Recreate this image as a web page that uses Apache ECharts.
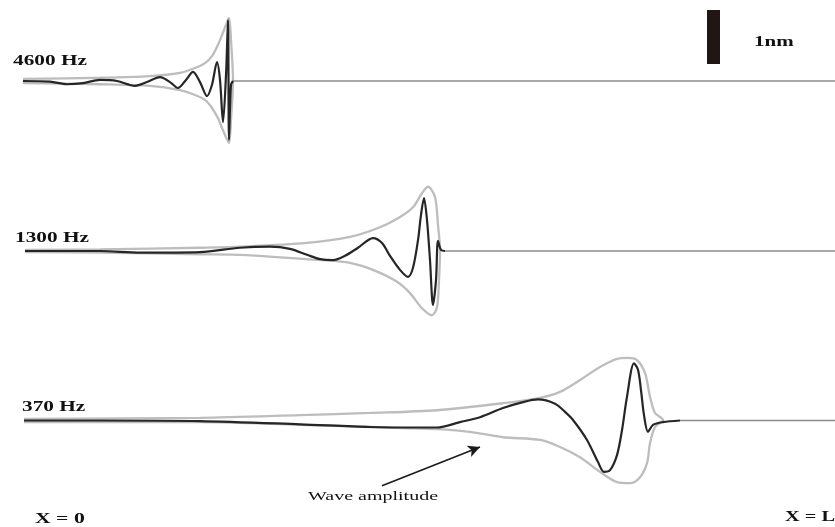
<!DOCTYPE html>
<html>
<head>
<meta charset="utf-8">
<script src="https://cdn.jsdelivr.net/npm/echarts@6/dist/echarts.min.js"></script>
<style>
  html, body { margin: 0; padding: 0; background: #ffffff; }
  #chart { width: 835px; height: 527px; }
</style>
</head>
<body>
<div id="chart"></div>
<script>
// Position along the basilar membrane (arbitrary units, X = 0 at the base, X = L at the apex)
const POS_MAX = 82;
// Displacement range shown for each trace (nm)
const AMP_RANGE = 1.4;

const frequencies = ['4600 Hz', '1300 Hz', '370 Hz'];

// Instantaneous displacement, [position, nm]
const wave4600 = [[0.8,0],[3.5,-0.01],[5.2,-0.06],[6.8,-0.04],[8.5,0.02],[10.2,0],[12.0,-0.09],[13.2,-0.02],[14.5,0.07],[15.5,-0.02],[16.3,-0.13],[17.1,0.02],[17.8,0.17],[18.5,-0.02],[19.2,-0.28],[19.7,-0.07],[20.2,0.35],[20.5,0.02],[20.8,-0.76],[21.1,0.11],[21.3,1.13],[21.4,-1.09],[21.6,-0.07],[21.8,0]];
const wave1300 = [[1.0,0],[8.5,0],[12.5,-0.03],[18.5,-0.02],[22.5,0.06],[25.5,0.08],[27.5,0.04],[29.2,-0.07],[30.5,-0.15],[31.8,-0.17],[33.0,-0.09],[34.3,0.06],[35.8,0.24],[36.7,0.15],[37.5,-0.09],[38.5,-0.35],[39.3,-0.48],[39.8,-0.31],[40.3,0.2],[40.6,0.67],[40.9,0.98],[41.2,0.57],[41.5,-0.17],[41.8,-1.0],[42.1,-0.54],[42.3,0.19],[42.6,0.02],[43.0,0]];
const wave370 = [[0.9,0],[8.5,0],[18.5,-0.01],[28.5,-0.07],[35.5,-0.12],[40.5,-0.13],[42.2,-0.13],[44.5,-0.03],[46.5,0.06],[48.8,0.23],[50.8,0.34],[52.3,0.39],[54.0,0.31],[55.0,0.16],[55.8,0.01],[57.2,-0.36],[58.3,-0.77],[58.9,-0.95],[59.5,-0.92],[60.2,-0.64],[60.7,-0.18],[61.2,0.44],[61.9,1.06],[62.3,0.94],[62.6,0.56],[62.9,0.1],[63.3,-0.21],[63.8,-0.08],[64.8,-0.03],[66.5,0]];

// Envelope (wave amplitude), upper and lower edges, left to right
const envUpper4600 = [[0.8,0.04],[8.5,0.06],[13.5,0.09],[16.5,0.15],[18.0,0.24],[19.0,0.33],[19.7,0.46],[20.3,0.67],[20.7,0.85],[21.1,1.04],[21.4,1.17],[21.6,0.76],[21.8,0]];
const envLower4600 = [[0.8,-0.04],[8.5,-0.06],[13.5,-0.09],[16.5,-0.17],[18.0,-0.26],[19.0,-0.35],[19.7,-0.5],[20.3,-0.69],[20.7,-0.87],[21.1,-1.04],[21.4,-1.15],[21.6,-0.72],[21.8,0]];
const envUpper1300 = [[1.0,0.02],[8.5,0.03],[18.5,0.06],[22.5,0.08],[29.2,0.15],[33.5,0.26],[36.5,0.44],[38.5,0.63],[39.8,0.81],[40.7,1.07],[41.3,1.19],[42.0,1.0],[42.3,0.48],[42.5,0.02]];
const envLower1300 = [[1.0,-0.02],[8.5,-0.03],[18.5,-0.06],[22.5,-0.07],[30.8,-0.17],[33.5,-0.22],[35.8,-0.35],[38.2,-0.57],[39.5,-0.78],[40.7,-1.06],[41.7,-1.19],[42.2,-1.04],[42.4,-0.54],[42.5,0.02]];
const envUpper370 = [[0.9,0.03],[18.5,0.05],[28.5,0.1],[35.5,0.14],[42.2,0.19],[48.8,0.32],[52.5,0.42],[54.5,0.53],[56.5,0.75],[58.5,0.99],[60.2,1.14],[61.3,1.16],[62.2,1.12],[63.0,0.88],[63.5,0.44],[64.0,0.14],[64.8,0.01]];
const envLower370 = [[0.9,-0.03],[18.5,-0.03],[28.5,-0.08],[35.5,-0.12],[38.8,-0.14],[42.2,-0.16],[45.5,-0.21],[48.8,-0.31],[52.5,-0.36],[54.5,-0.49],[56.5,-0.68],[58.5,-0.95],[60.2,-1.14],[61.5,-1.16],[62.5,-1.05],[63.2,-0.79],[63.5,-0.42],[64.0,-0.12],[64.8,0.01]];

// Where each trace settles back to rest
const restStart = [21.8, 43.0, 66.5];

// Scale bar: 1 nm drawn on the top trace's amplitude axis
const scaleBarPos = 69.85;
const scaleBarNm = [0.315, 1.315];

// Annotation arrow on the 370 Hz trace: [tail, head]
const arrowPts = [[36.7, -1.21], [46.5, -0.49]];

const waves = [wave4600, wave1300, wave370];
const envelopes = [
  envUpper4600.concat(envLower4600.slice().reverse()),
  envUpper1300.concat(envLower1300.slice().reverse()),
  envUpper370.concat(envLower370.slice().reverse())
];

const baselines = [81, 251, 420.5];
const pxPerNm = 54;
const gridH = 2 * AMP_RANGE * pxPerNm;

const grids = baselines.map(b => ({ left: 15, right: 0, top: b - gridH / 2, height: gridH }));
const xAxes = baselines.map((b, i) => ({ type: 'value', gridIndex: i, min: 0, max: POS_MAX, show: false }));
const yAxes = baselines.map((b, i) => ({ type: 'value', gridIndex: i, min: -AMP_RANGE, max: AMP_RANGE, show: false }));

const series = [];
for (let i = 0; i < 3; i++) {
  series.push({
    type: 'line', xAxisIndex: i, yAxisIndex: i, data: envelopes[i], showSymbol: false,
    smooth: 0.3, clip: false, silent: true,
    lineStyle: { color: '#bdbdbd', width: 2.3 }, z: 2
  });
  series.push({
    type: 'line', xAxisIndex: i, yAxisIndex: i, data: [[restStart[i], 0], [POS_MAX, 0]], showSymbol: false,
    silent: true, lineStyle: { color: '#8c8c8c', width: 1.3 }, z: 3
  });
  series.push({
    type: 'line', xAxisIndex: i, yAxisIndex: i, data: waves[i], showSymbol: false,
    smooth: 0.3, clip: false, silent: true,
    lineStyle: { color: '#262626', width: 2.2 }, z: 4
  });
}
// scale bar
series.push({
  type: 'line', xAxisIndex: 0, yAxisIndex: 0,
  data: scaleBarNm.map(v => [scaleBarPos, v]), showSymbol: false, silent: true,
  lineStyle: { color: '#221615', width: 13, cap: 'butt' }, z: 5
});
// arrow
series.push({
  type: 'line', xAxisIndex: 2, yAxisIndex: 2, data: [], silent: true,
  markLine: {
    silent: true, symbol: ['none', 'arrow'], symbolSize: [9, 12],
    label: { show: false },
    lineStyle: { color: '#1a1a1a', width: 1.6, type: 'solid' },
    data: [[{ coord: arrowPts[0] }, { coord: arrowPts[1] }]]
  }
});

const serif = '"Liberation Serif", "DejaVu Serif", serif';
function label(text, x, y, bold, size, sx) {
  return {
    type: 'text', x: x, y: y, scaleX: sx, silent: true,
    style: {
      text: text, font: (bold ? 'bold ' : '') + size + 'px ' + serif, fill: '#111111',
      textAlign: 'left', textVerticalAlign: 'middle', align: 'left', verticalAlign: 'middle'
    }
  };
}

const chart = echarts.init(document.getElementById('chart'), null, { renderer: 'canvas' });
chart.setOption({
  backgroundColor: '#ffffff',
  animation: false,
  grid: grids,
  xAxis: xAxes,
  yAxis: yAxes,
  series: series,
  graphic: [
    label(frequencies[0], 13, 61.5, true, 14, 1.52),
    label(frequencies[1], 15, 238, true, 14, 1.52),
    label(frequencies[2], 22, 407.5, true, 14, 1.52),
    label('1nm', 754, 42, true, 14, 1.5),
    label('Wave amplitude', 308, 497, false, 12.5, 1.6),
    label('X = 0', 35, 519, true, 14, 1.55),
    label('X = L', 785, 517, true, 14, 1.45)
  ]
});
</script>
</body>
</html>
